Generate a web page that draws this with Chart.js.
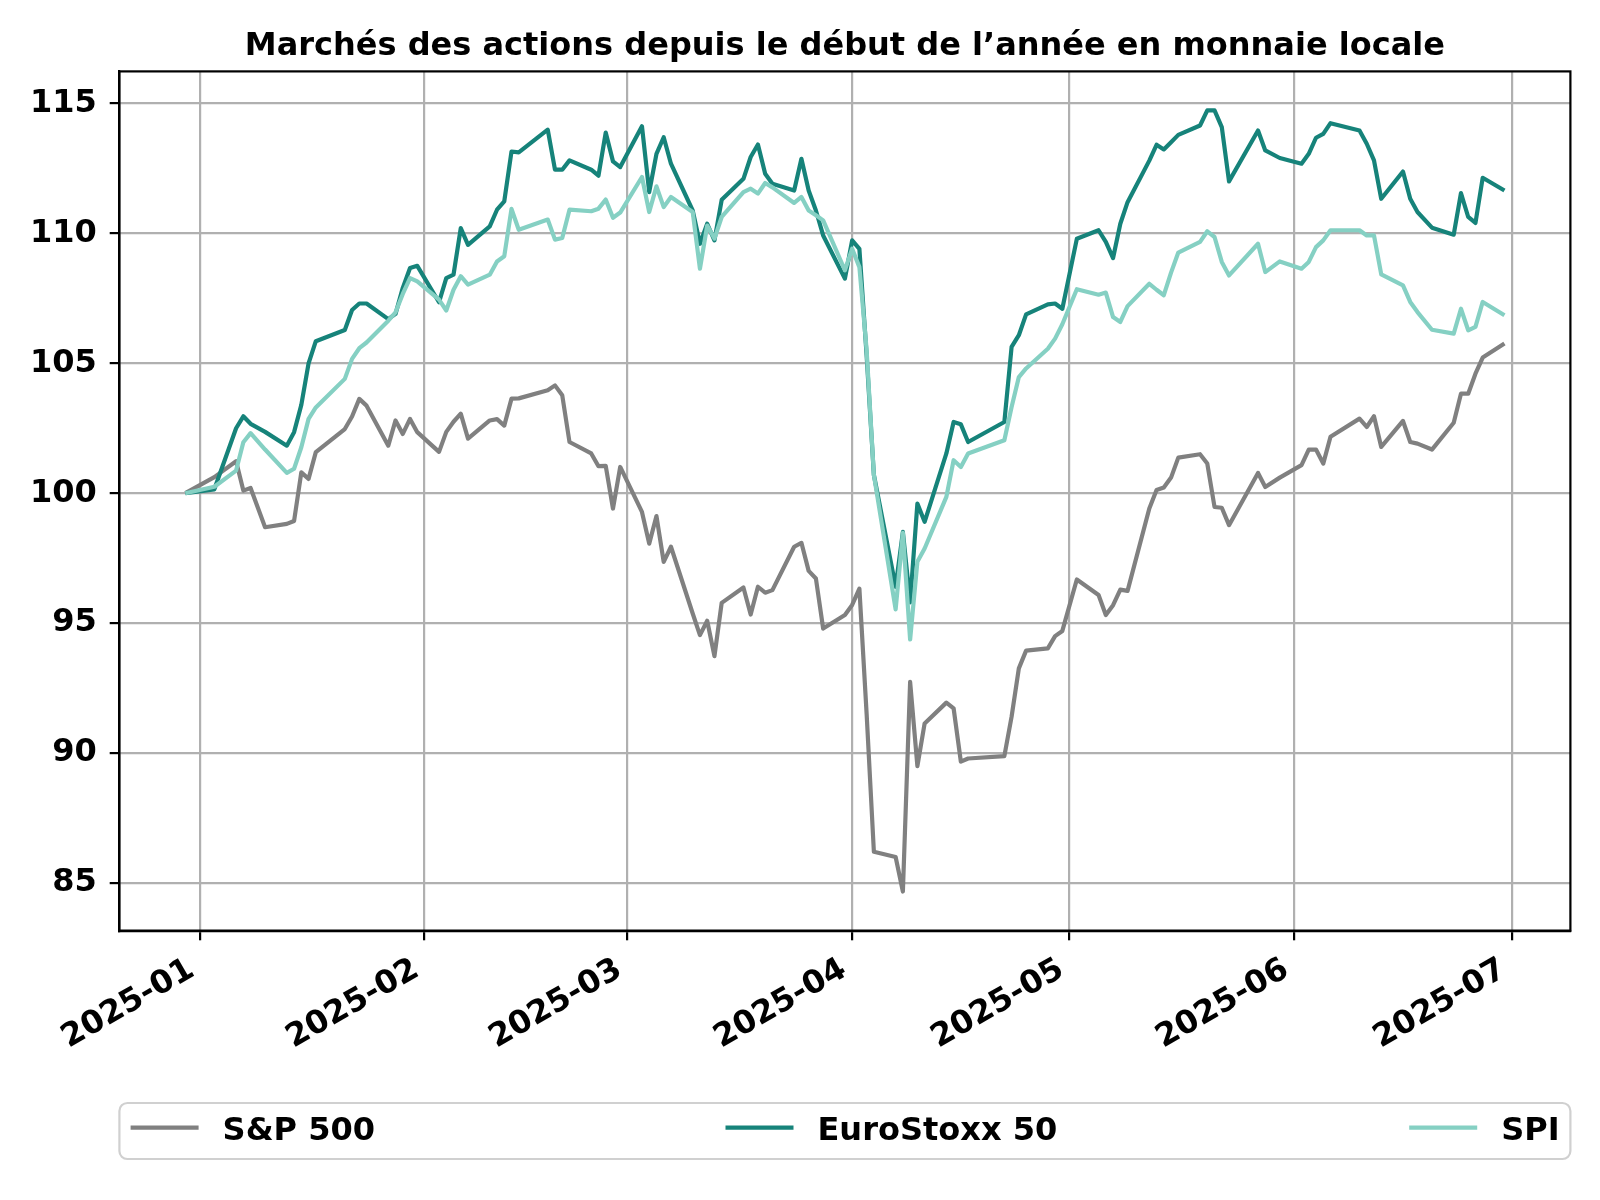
<!DOCTYPE html>
<html><head><meta charset="utf-8">
<script src="https://cdn.jsdelivr.net/npm/chart.js@4.4.1/dist/chart.umd.min.js"></script>
<style>html,body{margin:0;padding:0;background:#fff}canvas{display:block}</style>
</head><body>
<canvas id="c" width="1600" height="1200"></canvas>
<script>
const TITLE = 'Marchés des actions depuis le début de l’année en monnaie locale';
const seriesNames = ['S&P 500', 'EuroStoxx 50', 'SPI'];
const seriesColors = ['#808080', '#16837a', '#85d0c3'];

const dates = [
'2024-12-30',
'2025-01-03','2025-01-06','2025-01-07','2025-01-08','2025-01-10',
'2025-01-13','2025-01-14','2025-01-15','2025-01-16','2025-01-17',
'2025-01-21','2025-01-22','2025-01-23','2025-01-24',
'2025-01-27','2025-01-28','2025-01-29','2025-01-30','2025-01-31',
'2025-02-03','2025-02-04','2025-02-05','2025-02-06','2025-02-07',
'2025-02-10','2025-02-11','2025-02-12','2025-02-13','2025-02-14',
'2025-02-18','2025-02-19','2025-02-20','2025-02-21',
'2025-02-24','2025-02-25','2025-02-26','2025-02-27','2025-02-28',
'2025-03-03','2025-03-04','2025-03-05','2025-03-06','2025-03-07',
'2025-03-10','2025-03-11','2025-03-12','2025-03-13','2025-03-14',
'2025-03-17','2025-03-18','2025-03-19','2025-03-20','2025-03-21',
'2025-03-24','2025-03-25','2025-03-26','2025-03-27','2025-03-28',
'2025-03-31','2025-04-01','2025-04-02','2025-04-03','2025-04-04',
'2025-04-07','2025-04-08','2025-04-09','2025-04-10','2025-04-11',
'2025-04-14','2025-04-15','2025-04-16','2025-04-17',
'2025-04-22','2025-04-23','2025-04-24','2025-04-25',
'2025-04-28','2025-04-29','2025-04-30',
'2025-05-02',
'2025-05-05','2025-05-06','2025-05-07','2025-05-08','2025-05-09',
'2025-05-12','2025-05-13','2025-05-14','2025-05-15','2025-05-16',
'2025-05-19','2025-05-20','2025-05-21','2025-05-22','2025-05-23',
'2025-05-27','2025-05-28','2025-05-30',
'2025-06-02','2025-06-03','2025-06-04','2025-06-05','2025-06-06',
'2025-06-10','2025-06-11','2025-06-12','2025-06-13',
'2025-06-16','2025-06-17','2025-06-18','2025-06-20',
'2025-06-23','2025-06-24','2025-06-25','2025-06-26','2025-06-27',
'2025-06-30'
];

const sp500 = [
100,
100.62,101.23,100.10,100.20,98.69,
98.82,98.93,100.80,100.55,101.58,
102.47,102.95,103.63,103.37,
101.83,102.80,102.28,102.86,102.35,
101.59,102.36,102.75,103.06,102.10,
102.80,102.85,102.60,103.64,103.65,
103.96,104.15,103.77,101.97,
101.53,101.04,101.05,99.41,101.01,
99.28,98.06,99.12,97.36,97.94,
95.37,94.54,95.09,93.73,95.78,
96.37,95.33,96.40,96.17,96.27,
97.94,98.09,97.01,96.72,94.79,
95.31,95.70,96.33,91.50,86.20,
86.00,84.67,92.74,89.50,91.14,
91.94,91.72,89.67,89.79,
89.88,91.40,93.26,93.94,
94.03,94.50,94.70,
96.68,
96.08,95.31,95.69,96.29,96.24,
99.41,100.12,100.22,100.60,101.37,
101.50,101.14,99.47,99.44,98.77,
100.78,100.24,100.60,
101.08,101.68,101.68,101.14,102.17,
102.87,102.55,102.96,101.78,
102.78,101.97,101.91,101.68,
102.71,103.83,103.83,104.60,105.22,
105.76
];

const eurostoxx50 = [
100,
100.15,102.50,102.96,102.67,102.36,
101.83,102.35,103.40,105.00,105.85,
106.28,107.05,107.30,107.30,
106.70,106.90,107.90,108.67,108.75,
107.35,108.28,108.41,110.20,109.56,
110.27,110.91,111.23,113.15,113.12,
113.99,112.45,112.45,112.81,
112.45,112.22,113.88,112.77,112.55,
114.12,111.59,113.06,113.70,112.68,
110.88,109.60,110.37,109.73,111.29,
112.10,112.94,113.42,112.29,111.91,
111.65,112.87,111.65,110.88,109.92,
108.26,109.73,109.40,105.30,100.70,
96.40,98.51,95.80,99.60,98.90,
101.53,102.74,102.65,101.97,
102.74,105.63,106.08,106.88,
107.27,107.30,107.10,
109.79,
110.12,109.67,109.05,110.37,111.20,
112.80,113.41,113.23,113.51,113.79,
114.15,114.73,114.73,114.09,112.00,
113.96,113.19,112.90,
112.68,113.06,113.68,113.83,114.24,
113.96,113.45,112.81,111.33,
112.38,111.33,110.82,110.22,
109.95,111.55,110.63,110.40,112.14,
111.65
];

const spi = [
100,
100.25,100.87,101.96,102.31,101.68,
100.78,100.94,101.77,102.86,103.30,
104.40,105.17,105.58,105.80,
106.64,106.96,107.67,108.28,108.15,
107.45,107.03,107.83,108.35,108.03,
108.41,108.92,109.12,110.94,110.14,
110.53,109.76,109.82,110.91,
110.85,110.95,111.30,110.60,110.80,
112.17,110.82,111.81,111.01,111.40,
110.82,108.64,110.30,109.80,110.63,
111.59,111.72,111.53,111.94,111.77,
111.17,111.40,110.88,110.70,110.50,
108.58,109.41,108.70,105.50,100.70,
95.53,98.47,94.37,97.36,97.87,
99.86,101.27,101.01,101.53,
102.04,103.32,104.47,104.80,
105.56,105.95,106.50,
107.85,
107.64,107.72,106.78,106.59,107.20,
108.06,107.83,107.62,108.49,109.26,
109.67,110.08,109.86,108.90,108.38,
109.60,108.51,108.92,
108.64,108.90,109.47,109.73,110.12,
110.12,109.92,109.92,108.42,
108.00,107.36,106.97,106.29,
106.14,107.10,106.27,106.40,107.36,
106.85
];

const xTickDates = ['2025-01-01','2025-02-01','2025-03-01','2025-04-01','2025-05-01','2025-06-01','2025-07-01'];
const xTickLabels = ['2025-01','2025-02','2025-03','2025-04','2025-05','2025-06','2025-07'];
const yTicks = [85, 90, 95, 100, 105, 110, 115];

// ---------- build ----------
const FONT = '"DejaVu Sans", sans-serif';
const TICK_PX = 32;
const TEXT_PX = 32;
const toDay = s => { const [y, m, d] = s.split('-').map(Number); return (Date.UTC(y, m - 1, d) - Date.UTC(2025, 0, 1)) / 864e5; };
const xs = dates.map(toDay);
const pts = arr => arr.map((v, i) => ({ x: xs[i], y: v }));
const xMin0 = Math.min(...xs), xMax0 = Math.max(...xs);
const allY = sp500.concat(eurostoxx50, spi);
const yMin0 = Math.min(...allY), yMax0 = Math.max(...allY);
const mx = 0.05 * (xMax0 - xMin0), my = 0.05 * (yMax0 - yMin0);

const seriesData = [sp500, eurostoxx50, spi];
const LW = 4.2;

const gridOpts = { color: '#b0b0b0', lineWidth: 2.2, tickColor: '#000', tickLength: 9.7, tickWidth: 2.2, drawTicks: true };
const borderOpts = { display: true, color: '#000', width: 2.2 };

const decor = {
  id: 'decor',
  afterDatasetsDraw(chart) {
    const { ctx, chartArea: a } = chart;
    ctx.save();
    ctx.strokeStyle = '#000';
    ctx.lineWidth = 2.2;
    ctx.strokeRect(a.left, a.top, a.right - a.left, a.bottom - a.top);
    ctx.restore();
  },
  afterDraw(chart) {
    const { ctx, chartArea: a } = chart;
    ctx.save();
    // title
    ctx.fillStyle = '#000';
    ctx.font = 'bold ' + TEXT_PX + 'px ' + FONT;
    ctx.textAlign = 'center';
    ctx.textBaseline = 'alphabetic';
    ctx.fillText(TITLE, (a.left + a.right) / 2, 54.7);

    // x tick labels (rotated 30deg, right aligned at tick)
    const sx = chart.scales.x;
    ctx.font = 'bold ' + TICK_PX + 'px ' + FONT;
    ctx.textAlign = 'right';
    sx.ticks.forEach((t, i) => {
      const px = sx.getPixelForValue(t.value);
      ctx.save();
      ctx.translate(px - 3.8, a.bottom + 44);
      ctx.rotate(-Math.PI / 6);
      ctx.fillText(xTickLabels[i], 0, 0);
      ctx.restore();
    });

    // legend
    const bx = a.left, by = 1103, bw = a.right - a.left, bh = 56;
    ctx.beginPath();
    ctx.roundRect(bx, by, bw, bh, 8);
    ctx.fillStyle = 'rgba(255,255,255,0.8)';
    ctx.fill();
    ctx.strokeStyle = '#d0d0d0';
    ctx.lineWidth = 2.2;
    ctx.stroke();
    const hx = [130.6, 725.5, 1409.2];
    const ly = 1127.7;
    ctx.font = 'bold ' + TEXT_PX + 'px ' + FONT;
    ctx.textAlign = 'left';
    chart.data.datasets.forEach((ds, i) => {
      ctx.beginPath();
      ctx.moveTo(hx[i], ly);
      ctx.lineTo(hx[i] + 68, ly);
      ctx.strokeStyle = ds.borderColor;
      ctx.lineWidth = LW;
      ctx.stroke();
      ctx.fillStyle = '#000';
      ctx.fillText(ds.label, hx[i] + 92, 1139.5);
    });
    ctx.restore();
  }
};

new Chart(document.getElementById('c'), {
  type: 'line',
  data: {
    datasets: seriesNames.map((name, i) => ({
      label: name,
      data: pts(seriesData[i]),
      borderColor: seriesColors[i],
      backgroundColor: seriesColors[i],
      borderWidth: LW,
      pointRadius: 0,
      tension: 0,
      fill: false,
      borderJoinStyle: 'round',
      order: 2 - i
    }))
  },
  options: {
    responsive: false,
    animation: false,
    devicePixelRatio: 1,
    layout: { padding: { top: 71.4, right: 29.6, left: 0, bottom: 0 } },
    plugins: { legend: { display: false }, title: { display: false }, tooltip: { enabled: false } },
    scales: {
      x: {
        type: 'linear',
        min: xMin0 - mx, max: xMax0 + mx,
        afterBuildTicks: s => { s.ticks = xTickDates.map(d => ({ value: toDay(d) })); },
        afterFit: s => { s.height = 1200 - 930.6; },
        ticks: { display: false, autoSkip: false },
        grid: gridOpts,
        border: borderOpts
      },
      y: {
        type: 'linear',
        min: yMin0 - my, max: yMax0 + my,
        afterBuildTicks: s => { s.ticks = yTicks.map(v => ({ value: v })); },
        afterFit: s => { s.width = 119.4; },
        ticks: { color: '#000', padding: 13, font: { family: FONT, size: TICK_PX, weight: 'bold' }, callback: v => String(v) },
        grid: gridOpts,
        border: borderOpts
      }
    }
  },
  plugins: [decor]
});
</script>
</body></html>
